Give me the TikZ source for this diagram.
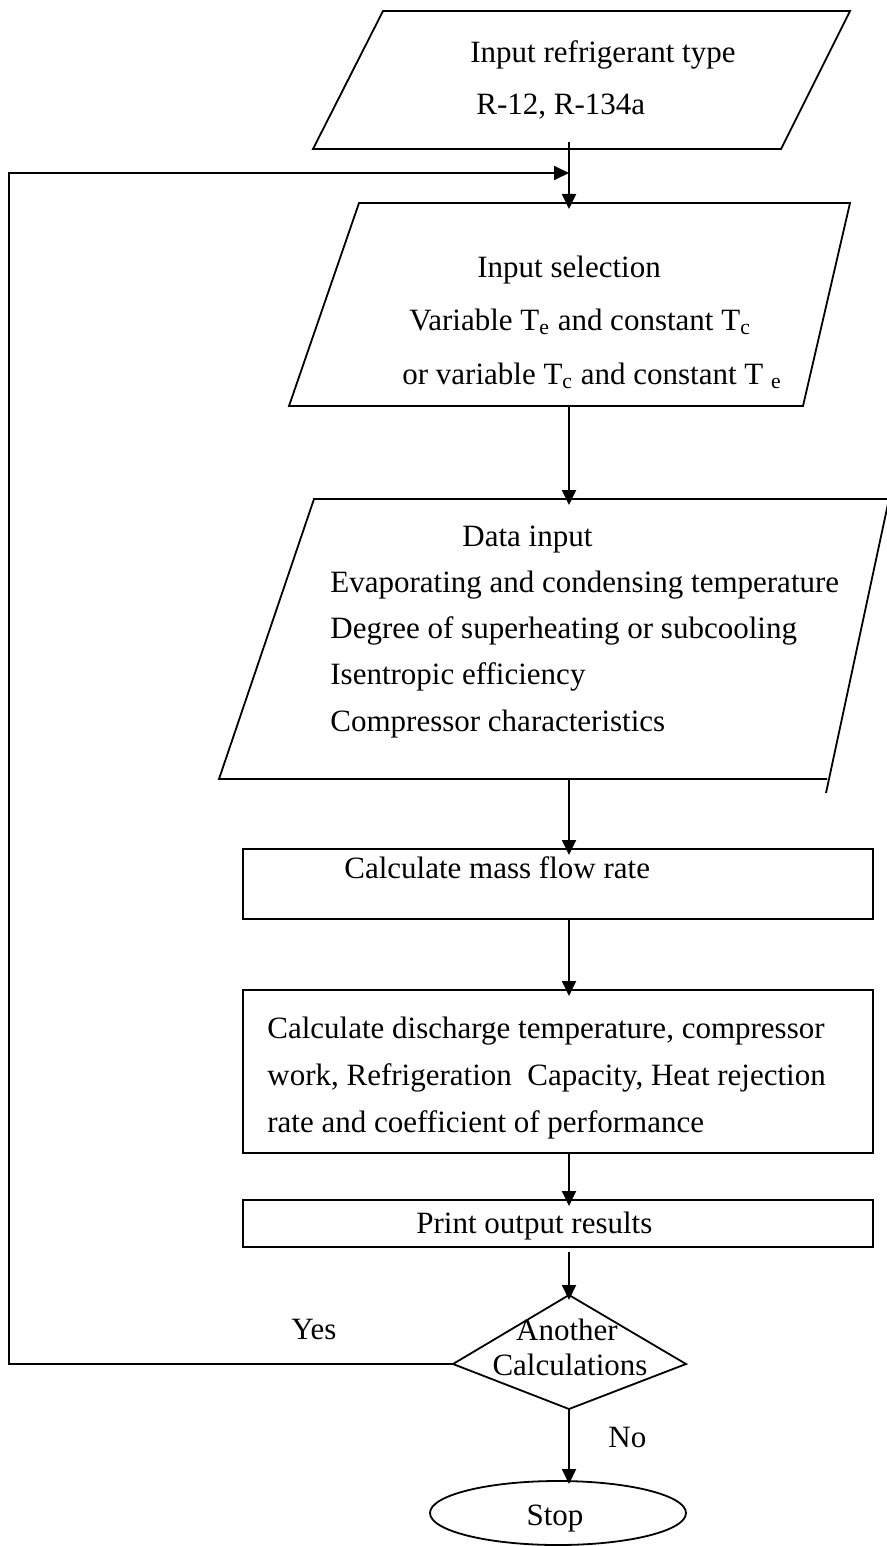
\documentclass[tikz,border=0pt]{standalone}
\usepackage{fontspec}
\setmainfont{Liberation Serif}
\usetikzlibrary{arrows.meta}
\tikzset{
  shapeline/.style={draw=black, line width=0.9pt, line join=miter},
  conn/.style={draw=black, line width=0.9pt, -{Triangle[length=7.5pt,width=7pt]}},
  txt/.style={inner sep=0pt, anchor=base west, font=\fontsize{15.5}{18}\selectfont},
  ctxt/.style={inner sep=0pt, anchor=base, font=\fontsize{15.5}{18}\selectfont},
}
\begin{document}
\begin{tikzpicture}[x=0.5pt, y=-0.5pt]
\useasboundingbox (0,0) rectangle (887,1546);
% ---- shape corner coordinates ----
\coordinate (a1) at (383,11); \coordinate (a2) at (850,11);
\coordinate (a3) at (781,149); \coordinate (a4) at (313,149);
\coordinate (b1) at (359,203); \coordinate (b2) at (850,203);
\coordinate (b3) at (803,406); \coordinate (b4) at (289,406);
\coordinate (c1) at (314,499); \coordinate (c2) at (889,499);
\coordinate (c3) at (826,793); \coordinate (c3b) at (827,779); \coordinate (c4) at (219,779);
% parallelograms
\draw[shapeline] (a1) -- (a2) -- (a3) -- (a4) -- cycle;
\draw[shapeline] (b1) -- (b2) -- (b3) -- (b4) -- cycle;
\draw[shapeline] (c3b) -- (c4) -- (c1) -- (c2) -- (c3);
% rectangles
\draw[shapeline] (243,849) rectangle (873,919);
\draw[shapeline] (243,990) rectangle (873,1153);
\draw[shapeline] (243,1200) rectangle (873,1247);
% decision diamond and terminal
\coordinate (dT) at (569,1295); \coordinate (dR) at (686,1364);
\coordinate (dB) at (569,1409); \coordinate (dL) at (453,1364);
\draw[shapeline] (dT) -- (dR) -- (dB) -- (dL) -- cycle;
\draw[shapeline] (558,1513) ellipse [x radius=128, y radius=32];
% ---- texts ----
\node[txt] (t1a) at (470,63) {Input refrigerant type};
\node[txt] (t1b) at (476,115) {R-12, R-134a};
\node[txt] (t2a) at (477,278) {Input selection};
\node[txt] (t2b) at (409,330) {Variable T\textsubscript{e} and constant T\textsubscript{c}};
\node[txt] (t2c) at (402,384) {or variable T\textsubscript{c} and constant T \textsubscript{e}};
\node[txt] (t3a) at (462,546) {Data input};
\node[txt] (t3b) at (330,592) {Evaporating and condensing temperature};
\node[txt] (t3c) at (330,638) {Degree of superheating or subcooling};
\node[txt] (t3d) at (330,684) {Isentropic efficiency};
\node[txt] (t3e) at (330,731) {Compressor characteristics};
\node[txt] (t4) at (344,878) {Calculate mass flow rate};
\node[txt] (t5a) at (267,1038) {Calculate discharge temperature, compressor};
\node[txt] (t5b) at (267,1085) {work, Refrigeration\ \ Capacity, Heat rejection};
\node[txt] (t5c) at (267,1132) {rate and coefficient of performance};
\node[txt] (t6) at (416,1233) {Print output results};
\node[ctxt] (t7a) at (567,1340) {Another};
\node[ctxt] (t7b) at (570,1375) {Calculations};
\node[ctxt] (yes) at (314,1339) {Yes};
\node[txt] (no) at (608,1447) {No};
\node[ctxt] (stop) at (555,1525) {Stop};
% ---- connectors ----
\coordinate (s1) at (569,142); \coordinate (e1) at (569,209);
\coordinate (s2) at (569,406); \coordinate (e2) at (569,505);
\coordinate (s3) at (569,779); \coordinate (e3) at (569,855);
\coordinate (s4) at (569,919); \coordinate (e4) at (569,996);
\coordinate (s5) at (569,1153); \coordinate (e5) at (569,1206);
\coordinate (s6) at (569,1252); \coordinate (e6) at (569,1300);
\coordinate (e7) at (569,1484);
\coordinate (loopA) at (9,1364); \coordinate (loopB) at (9,173); \coordinate (join) at (569,173);
\draw[conn] (s1) -- (e1);
\draw[conn] (s2) -- (e2);
\draw[conn] (s3) -- (e3);
\draw[conn] (s4) -- (e4);
\draw[conn] (s5) -- (e5);
\draw[conn] (s6) -- (e6);
\draw[conn] (dB) -- (e7);
\draw[conn] (dL) -- (loopA) -- (loopB) -- (join);
\end{tikzpicture}
\end{document}
